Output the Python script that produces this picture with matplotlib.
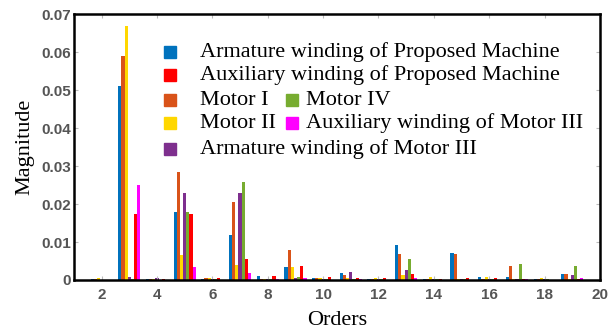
import numpy as np
import matplotlib
matplotlib.use("Agg")
import matplotlib.pyplot as plt

orders = np.arange(2, 20)

# harmonic magnitudes, orders 2..19
arm_pm   = [0.0002, 0.051, 0.0002, 0.018, 0.0002, 0.0118, 0.0011, 0.0033, 0.0006, 0.0018, 0.0003, 0.0091, 0.0002, 0.0071, 0.0008, 0.0009, 0.0002, 0.0017]
motor1   = [0.0003, 0.059, 0.0003, 0.0285, 0.0005, 0.0205, 0.0003, 0.0079, 0.0005, 0.0013, 0.0003, 0.0069, 0.0003, 0.0068, 0.0003, 0.0038, 0.0002, 0.0017]
motor2   = [0.0004, 0.067, 0.0003, 0.0065, 0.0006, 0.004, 0.0003, 0.0033, 0.0004, 0.0004, 0.0004, 0.0012, 0.0007, 0.0003, 0.0007, 0.0003, 0.0006, 0.0003]
arm_m3   = [0.0001, 0.0007, 0.0004, 0.023, 0.0002, 0.0228, 0.0003, 0.0006, 0.0003, 0.0022, 0.0002, 0.0026, 0.0002, 0.0002, 0.0002, 0.0002, 0.0002, 0.0012]
motor4   = [0.0, 0.0002, 0.0001, 0.018, 0.0003, 0.0257, 0.0002, 0.0008, 0.0002, 0.0003, 0.0002, 0.0054, 0.0002, 0.0002, 0.0002, 0.0042, 0.0002, 0.0036]
aux_pm   = [0.0001, 0.0175, 0.0002, 0.0175, 0.0005, 0.0055, 0.001, 0.0037, 0.0008, 0.0005, 0.0006, 0.0016, 0.0002, 0.0005, 0.0006, 0.0003, 0.0001, 0.0002]
aux_m3   = [0.0, 0.025, 0.0001, 0.0035, 0.0001, 0.0018, 0.0002, 0.0005, 0.0001, 0.0002, 0.0001, 0.0004, 0.0001, 0.0001, 0.0001, 0.0002, 0.0001, 0.0005]

series = [arm_pm, motor1, motor2, arm_m3, motor4, aux_pm, aux_m3]
colors = ['#0072BD', '#D95319', '#FFD700', '#7E2F8E', '#77AC30', '#FF0000', '#FF00FF']
names = ['Armature winding of Proposed Machine', 'Motor I', 'Motor II',
         'Armature winding of Motor III', 'Motor IV',
         'Auxiliary winding of Proposed Machine', 'Auxiliary winding of Motor III']

fig = plt.figure(figsize=(6.11, 3.29), dpi=100)
ax = fig.add_axes([0.121, 0.149, 0.861, 0.808])

n = len(series)
w = 0.8 / n
for i, (vals, c) in enumerate(zip(series, colors)):
    ax.bar(orders + (i - (n - 1) / 2) * w, vals, width=w, color=c, linewidth=0)

ax.set_xlim(1, 20)
ax.set_ylim(0, 0.07)
ax.set_xticks(np.arange(2, 21, 2))
ax.set_yticks(np.arange(0, 0.071, 0.01))
ax.set_yticklabels(['0', '0.01', '0.02', '0.03', '0.04', '0.05', '0.06', '0.07'])
ax.tick_params(direction='in', top=True, right=True, length=3, color='#bbbbbb',
               labelsize=11, labelcolor='#555555')
ax.tick_params(axis='x', pad=6)
ax.tick_params(axis='y', pad=2)
for lab in ax.get_xticklabels() + ax.get_yticklabels():
    lab.set_family('Liberation Sans')
    lab.set_weight('bold')
for sp in ax.spines.values():
    sp.set_linewidth(1.8)
    sp.set_color('black')

serif = 'Liberation Serif'
ax.set_ylabel('Magnitude', family=serif, fontsize=16, labelpad=5)
ax.set_xlabel('Orders', family=serif, fontsize=16, labelpad=6)

# hand-placed legend: (label index, row, column)
rows_y = [0.857, 0.770, 0.676, 0.590, 0.492]
layout = [(0, 0, 0), (5, 1, 0), (1, 2, 0), (4, 2, 1), (2, 3, 0), (6, 3, 1), (3, 4, 0)]
col_mark = [0.1825, 0.4144]
col_text = [0.2395, 0.441]
for idx, r, col in layout:
    ax.plot([col_mark[col]], [rows_y[r]], marker='s', markersize=9, color=colors[idx],
            transform=ax.transAxes, clip_on=False, linestyle='none')
    ax.text(col_text[col], rows_y[r], names[idx], transform=ax.transAxes,
            family=serif, fontsize=16, va='center', ha='left')

fig.savefig('out.png', dpi=100)
